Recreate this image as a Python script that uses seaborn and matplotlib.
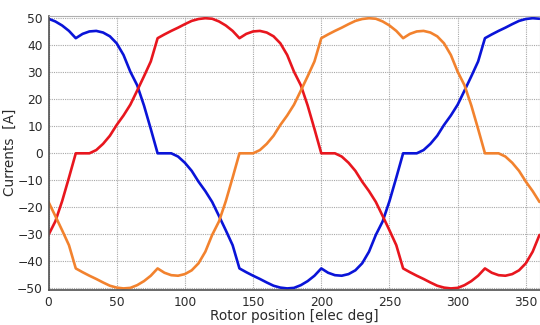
import numpy as np
import pandas as pd
import matplotlib
matplotlib.use("Agg")
import matplotlib.pyplot as plt
import seaborn as sns

# Rotor position, electrical degrees (5 degree steps)
position = list(range(0, 361, 5))

# Phase currents [A]
phase_a = [49.8, 48.8, 47.3, 45.3, 42.6, 44.2, 45.1, 45.3, 44.7, 43.3, 40.7, 36.4, 30.2,
           25.2, 17.7, 9.0, 0.0, 0.0, 0.0, -1.2, -3.5, -6.5, -10.5, -14.0, -18.0,
           -23.2, -28.5, -34.0, -42.6, -44.0, -45.3, -46.5, -47.8, -49.0, -49.7, -50.0,
           -49.8, -48.8, -47.3, -45.3, -42.6, -44.2, -45.1, -45.3, -44.7, -43.3, -40.7,
           -36.4, -30.2, -25.2, -17.7, -9.0, 0.0, 0.0, 0.0, 1.2, 3.5, 6.5, 10.5, 14.0,
           18.0, 23.2, 28.5, 34.0, 42.6, 44.0, 45.3, 46.5, 47.8, 49.0, 49.7, 50.0, 49.8]

phase_b = [-30.2, -25.2, -17.7, -9.0, 0.0, 0.0, 0.0, 1.2, 3.5, 6.5, 10.5, 14.0, 18.0,
           23.2, 28.5, 34.0, 42.6, 44.0, 45.3, 46.5, 47.8, 49.0, 49.7, 50.0, 49.8,
           48.8, 47.3, 45.3, 42.6, 44.2, 45.1, 45.3, 44.7, 43.3, 40.7, 36.4, 30.2, 25.2,
           17.7, 9.0, 0.0, 0.0, 0.0, -1.2, -3.5, -6.5, -10.5, -14.0, -18.0, -23.2, -28.5,
           -34.0, -42.6, -44.0, -45.3, -46.5, -47.8, -49.0, -49.7, -50.0, -49.8, -48.8,
           -47.3, -45.3, -42.6, -44.2, -45.1, -45.3, -44.7, -43.3, -40.7, -36.4, -30.2]

phase_c = [-18.0, -23.2, -28.5, -34.0, -42.6, -44.0, -45.3, -46.5, -47.8, -49.0, -49.7,
           -50.0, -49.8, -48.8, -47.3, -45.3, -42.6, -44.2, -45.1, -45.3, -44.7, -43.3,
           -40.7, -36.4, -30.2, -25.2, -17.7, -9.0, 0.0, 0.0, 0.0, 1.2, 3.5, 6.5, 10.5,
           14.0, 18.0, 23.2, 28.5, 34.0, 42.6, 44.0, 45.3, 46.5, 47.8, 49.0, 49.7, 50.0,
           49.8, 48.8, 47.3, 45.3, 42.6, 44.2, 45.1, 45.3, 44.7, 43.3, 40.7, 36.4, 30.2,
           25.2, 17.7, 9.0, 0.0, 0.0, 0.0, -1.2, -3.5, -6.5, -10.5, -14.0, -18.0]

phases = ["A", "B", "C"]
colors = {"A": "#0a14d8", "B": "#e8161e", "C": "#f2822e"}

x_ticks = [0, 50, 100, 150, 200, 250, 300, 350]
y_ticks = [-50, -40, -30, -20, -10, 0, 10, 20, 30, 40, 50]

df = pd.DataFrame({
    "position": position * 3,
    "current": phase_a + phase_b + phase_c,
    "phase": [p for p in phases for _ in position],
})

sns.set_style("white")
plt.rcParams["font.family"] = ["DejaVu Sans"]

fig = plt.figure(figsize=(5.4, 3.25), dpi=100)
ax = fig.add_axes([48.5 / 540, 1 - 289.5 / 325, (539.5 - 48.5) / 540, (289.5 - 15.5) / 325])

sns.lineplot(data=df, x="position", y="current", hue="phase", palette=colors,
             estimator=None, sort=False, linewidth=1.9, legend=False, ax=ax)

ax.set_xlim(0, 360)
ax.set_ylim(-50.4, 51.0)
ax.set_xticks(x_ticks)
ax.set_yticks(y_ticks)
ax.grid(True, color="#a8a8a8", linestyle=(0, (1, 1)), linewidth=0.8)
ax.set_axisbelow(True)

for side in ["left", "bottom"]:
    ax.spines[side].set_color("#505050")
    ax.spines[side].set_linewidth(1.2)
for side in ["top", "right"]:
    ax.spines[side].set_color("#b0b0b0")
    ax.spines[side].set_linewidth(0.8)

ax.tick_params(axis="both", which="major", direction="out", length=3.5, width=0.9,
               color="#505050", labelsize=8.8, labelcolor="#2a2a2a", pad=0.5)
ax.tick_params(axis="x", length=0, pad=4.5)

ax.set_xlabel("Rotor position [elec deg]", fontsize=9.8, color="#2a2a2a", labelpad=0.5)
ax.set_ylabel("Currents  [A]", fontsize=9.8, color="#2a2a2a", labelpad=0.5)

fig.savefig("out.png", dpi=100)
